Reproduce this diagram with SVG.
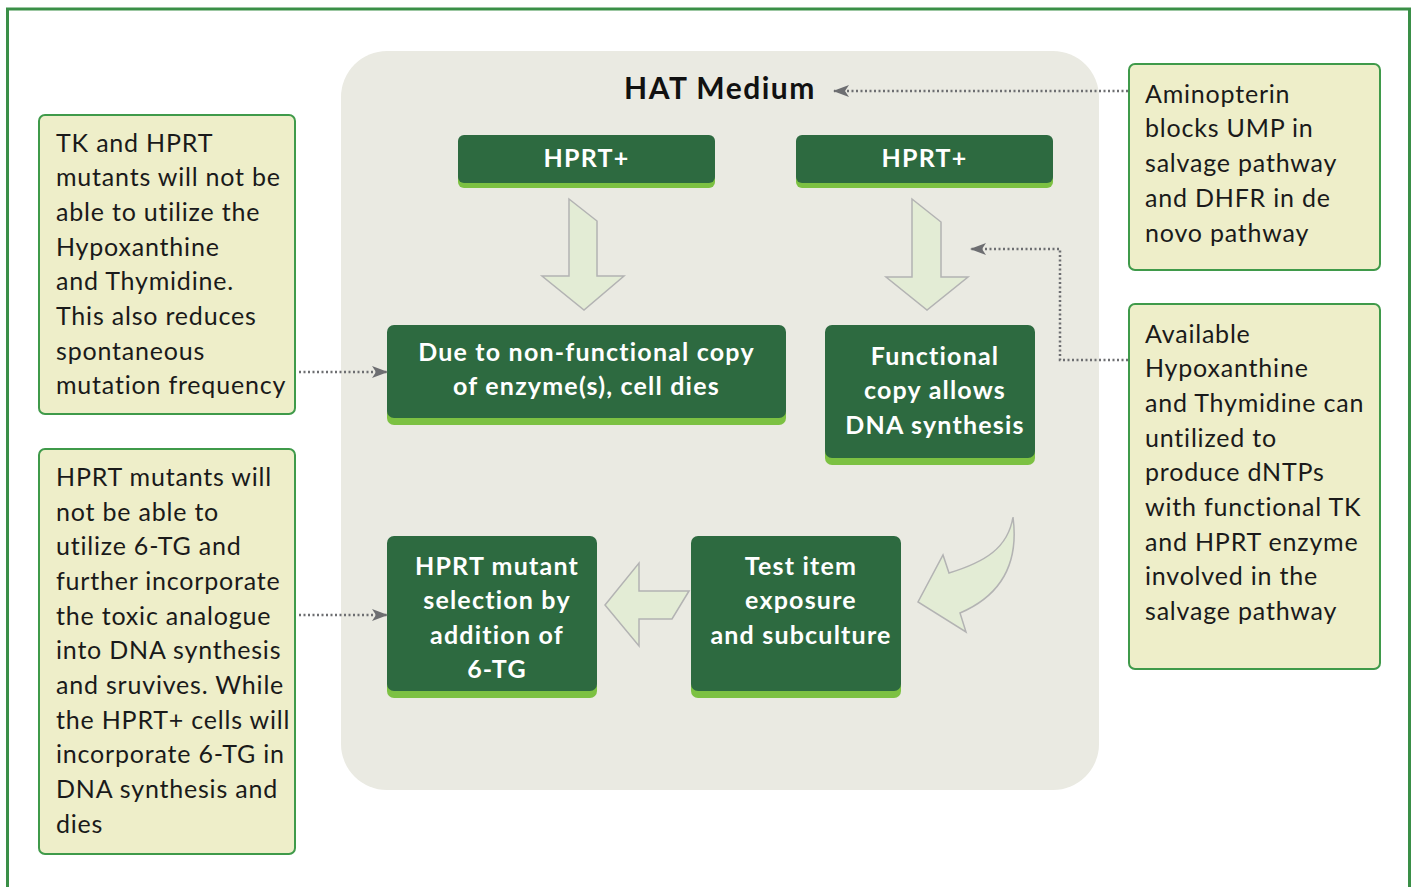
<svg xmlns="http://www.w3.org/2000/svg" width="1415" height="887" viewBox="0 0 1415 887">
<defs>
<style>
.note{fill:#eeeec9;stroke:#3f9a4a;stroke-width:2}
.nt{font-family:Lato,"Open Sans",sans-serif;font-size:25px;letter-spacing:0.8px;fill:#1a1a1a}
.nb{fill:#2d6a40}
.ns{fill:#7cc142}
.bt{font-family:Lato,"Open Sans",sans-serif;font-size:25px;font-weight:bold;letter-spacing:1.2px;fill:#ffffff;text-anchor:middle}
.arr{fill:#e3ecd5;stroke:#b3b3b3;stroke-width:1.5;stroke-linejoin:miter}
.con{fill:none;stroke:#6d6e71;stroke-width:2.5;stroke-dasharray:2 2.5;stroke-linecap:butt}
</style>
<marker id="ah" viewBox="0 0 16 12" refX="15" refY="6" markerWidth="16" markerHeight="12" markerUnits="userSpaceOnUse" orient="auto">
<path d="M0,0 L16,6 L0,12 L4,6 Z" fill="#6d6e71"/>
</marker>
</defs>
<rect x="0" y="0" width="1415" height="887" fill="#ffffff"/>
<rect x="7.5" y="9" width="1402" height="900" fill="none" stroke="#3a8f47" stroke-width="3"/>
<g id="panel">
<rect x="341" y="51" width="758" height="739" rx="46" fill="#eaeae2"/>
<text x="720" y="99" font-family="Lato,'Open Sans',sans-serif" font-size="30" font-weight="bold" letter-spacing="1.5" fill="#111" text-anchor="middle">HAT Medium</text>
</g>
<g id="hprt1">
<rect x="458" y="140" width="257" height="48" rx="6" class="ns"/>
<rect x="458" y="135" width="257" height="48" rx="6" class="nb"/>
<text x="586.5" y="167" class="bt">HPRT+</text>
</g>
<g id="hprt2">
<rect x="796" y="140" width="257" height="48" rx="6" class="ns"/>
<rect x="796" y="135" width="257" height="48" rx="6" class="nb"/>
<text x="924.5" y="167" class="bt">HPRT+</text>
</g>
<g id="dies">
<rect x="387" y="330" width="399" height="95" rx="7" class="ns"/>
<rect x="387" y="325" width="399" height="93" rx="7" class="nb"/>
<text x="586.5" y="361" class="bt">Due to non-functional copy</text>
<text x="586.5" y="395" class="bt">of enzyme(s), cell dies</text>
</g>
<g id="functional">
<rect x="825" y="330" width="210" height="135" rx="7" class="ns"/>
<rect x="825" y="325" width="210" height="133" rx="7" class="nb"/>
<text x="935" y="365" class="bt">Functional</text>
<text x="935" y="399" class="bt">copy allows</text>
<text x="935" y="434" class="bt">DNA synthesis</text>
</g>
<g id="selection">
<rect x="387" y="541" width="210" height="157" rx="7" class="ns"/>
<rect x="387" y="536" width="210" height="155" rx="7" class="nb"/>
<text x="497" y="575" class="bt">HPRT mutant</text>
<text x="497" y="609" class="bt">selection by</text>
<text x="497" y="644" class="bt">addition of</text>
<text x="497" y="678" class="bt">6-TG</text>
</g>
<g id="exposure">
<rect x="691" y="541" width="210" height="157" rx="7" class="ns"/>
<rect x="691" y="536" width="210" height="155" rx="7" class="nb"/>
<text x="801" y="575" class="bt">Test item</text>
<text x="801" y="609" class="bt">exposure</text>
<text x="801" y="644" class="bt">and subculture</text>
</g>
<g id="block-arrows">
<path class="arr" d="M569,199 L597,221 L597,276 L624,276 L584,310 L542,276 L569,276 Z"/>
<path class="arr" d="M912,199 L941,222 L941,277 L968,277 L927,310 L886,277 L912,277 Z"/>
<path class="arr" d="M689,591 L672,619 L639,619 L639,646 L605,605 L639,563 L639,591 Z"/>
<path class="arr" d="M1013,517 C1020,570 995,598 960,613 L966,632 L918,602 L943,555 L949,573 C985,562 1008,548 1013,517 Z"/>
</g>
<g id="note-tl">
<rect x="39" y="115" width="256" height="299" rx="6" class="note"/>
<text class="nt"><tspan x="56" y="152">TK and HPRT</tspan><tspan x="56" y="186">mutants will not be</tspan><tspan x="56" y="221">able to utilize the</tspan><tspan x="56" y="256">Hypoxanthine</tspan><tspan x="56" y="290">and Thymidine.</tspan><tspan x="56" y="325">This also reduces</tspan><tspan x="56" y="360">spontaneous</tspan><tspan x="56" y="394">mutation frequency</tspan></text>
</g>
<g id="note-bl">
<rect x="39" y="449" width="256" height="405" rx="6" class="note"/>
<text class="nt"><tspan x="56" y="486">HPRT mutants will</tspan><tspan x="56" y="521">not be able to</tspan><tspan x="56" y="555">utilize 6-TG and</tspan><tspan x="56" y="590">further incorporate</tspan><tspan x="56" y="625">the toxic analogue</tspan><tspan x="56" y="659">into DNA synthesis</tspan><tspan x="56" y="694">and sruvives. While</tspan><tspan x="56" y="729">the HPRT+ cells will</tspan><tspan x="56" y="763">incorporate 6-TG in</tspan><tspan x="56" y="798">DNA synthesis and</tspan><tspan x="56" y="833">dies</tspan></text>
</g>
<g id="note-tr">
<rect x="1129" y="64" width="251" height="206" rx="6" class="note"/>
<text class="nt"><tspan x="1145" y="103">Aminopterin</tspan><tspan x="1145" y="137">blocks UMP in</tspan><tspan x="1145" y="172">salvage pathway</tspan><tspan x="1145" y="207">and DHFR in de</tspan><tspan x="1145" y="242">novo pathway</tspan></text>
</g>
<g id="note-br">
<rect x="1129" y="304" width="251" height="365" rx="6" class="note"/>
<text class="nt"><tspan x="1145" y="343">Available</tspan><tspan x="1145" y="377">Hypoxanthine</tspan><tspan x="1145" y="412">and Thymidine can</tspan><tspan x="1145" y="447">untilized to</tspan><tspan x="1145" y="481">produce dNTPs</tspan><tspan x="1145" y="516">with functional TK</tspan><tspan x="1145" y="551">and HPRT enzyme</tspan><tspan x="1145" y="585">involved in the</tspan><tspan x="1145" y="620">salvage pathway</tspan></text>
</g>
<g id="connectors">
<path class="con" d="M1128,91 L834,91" marker-end="url(#ah)"/>
<path class="con" d="M1128,360 L1060,360 L1060,249 L971,249" marker-end="url(#ah)"/>
<path class="con" d="M299,372 L387,372" marker-end="url(#ah)"/>
<path class="con" d="M299,615 L387,615" marker-end="url(#ah)"/>
</g>
</svg>
